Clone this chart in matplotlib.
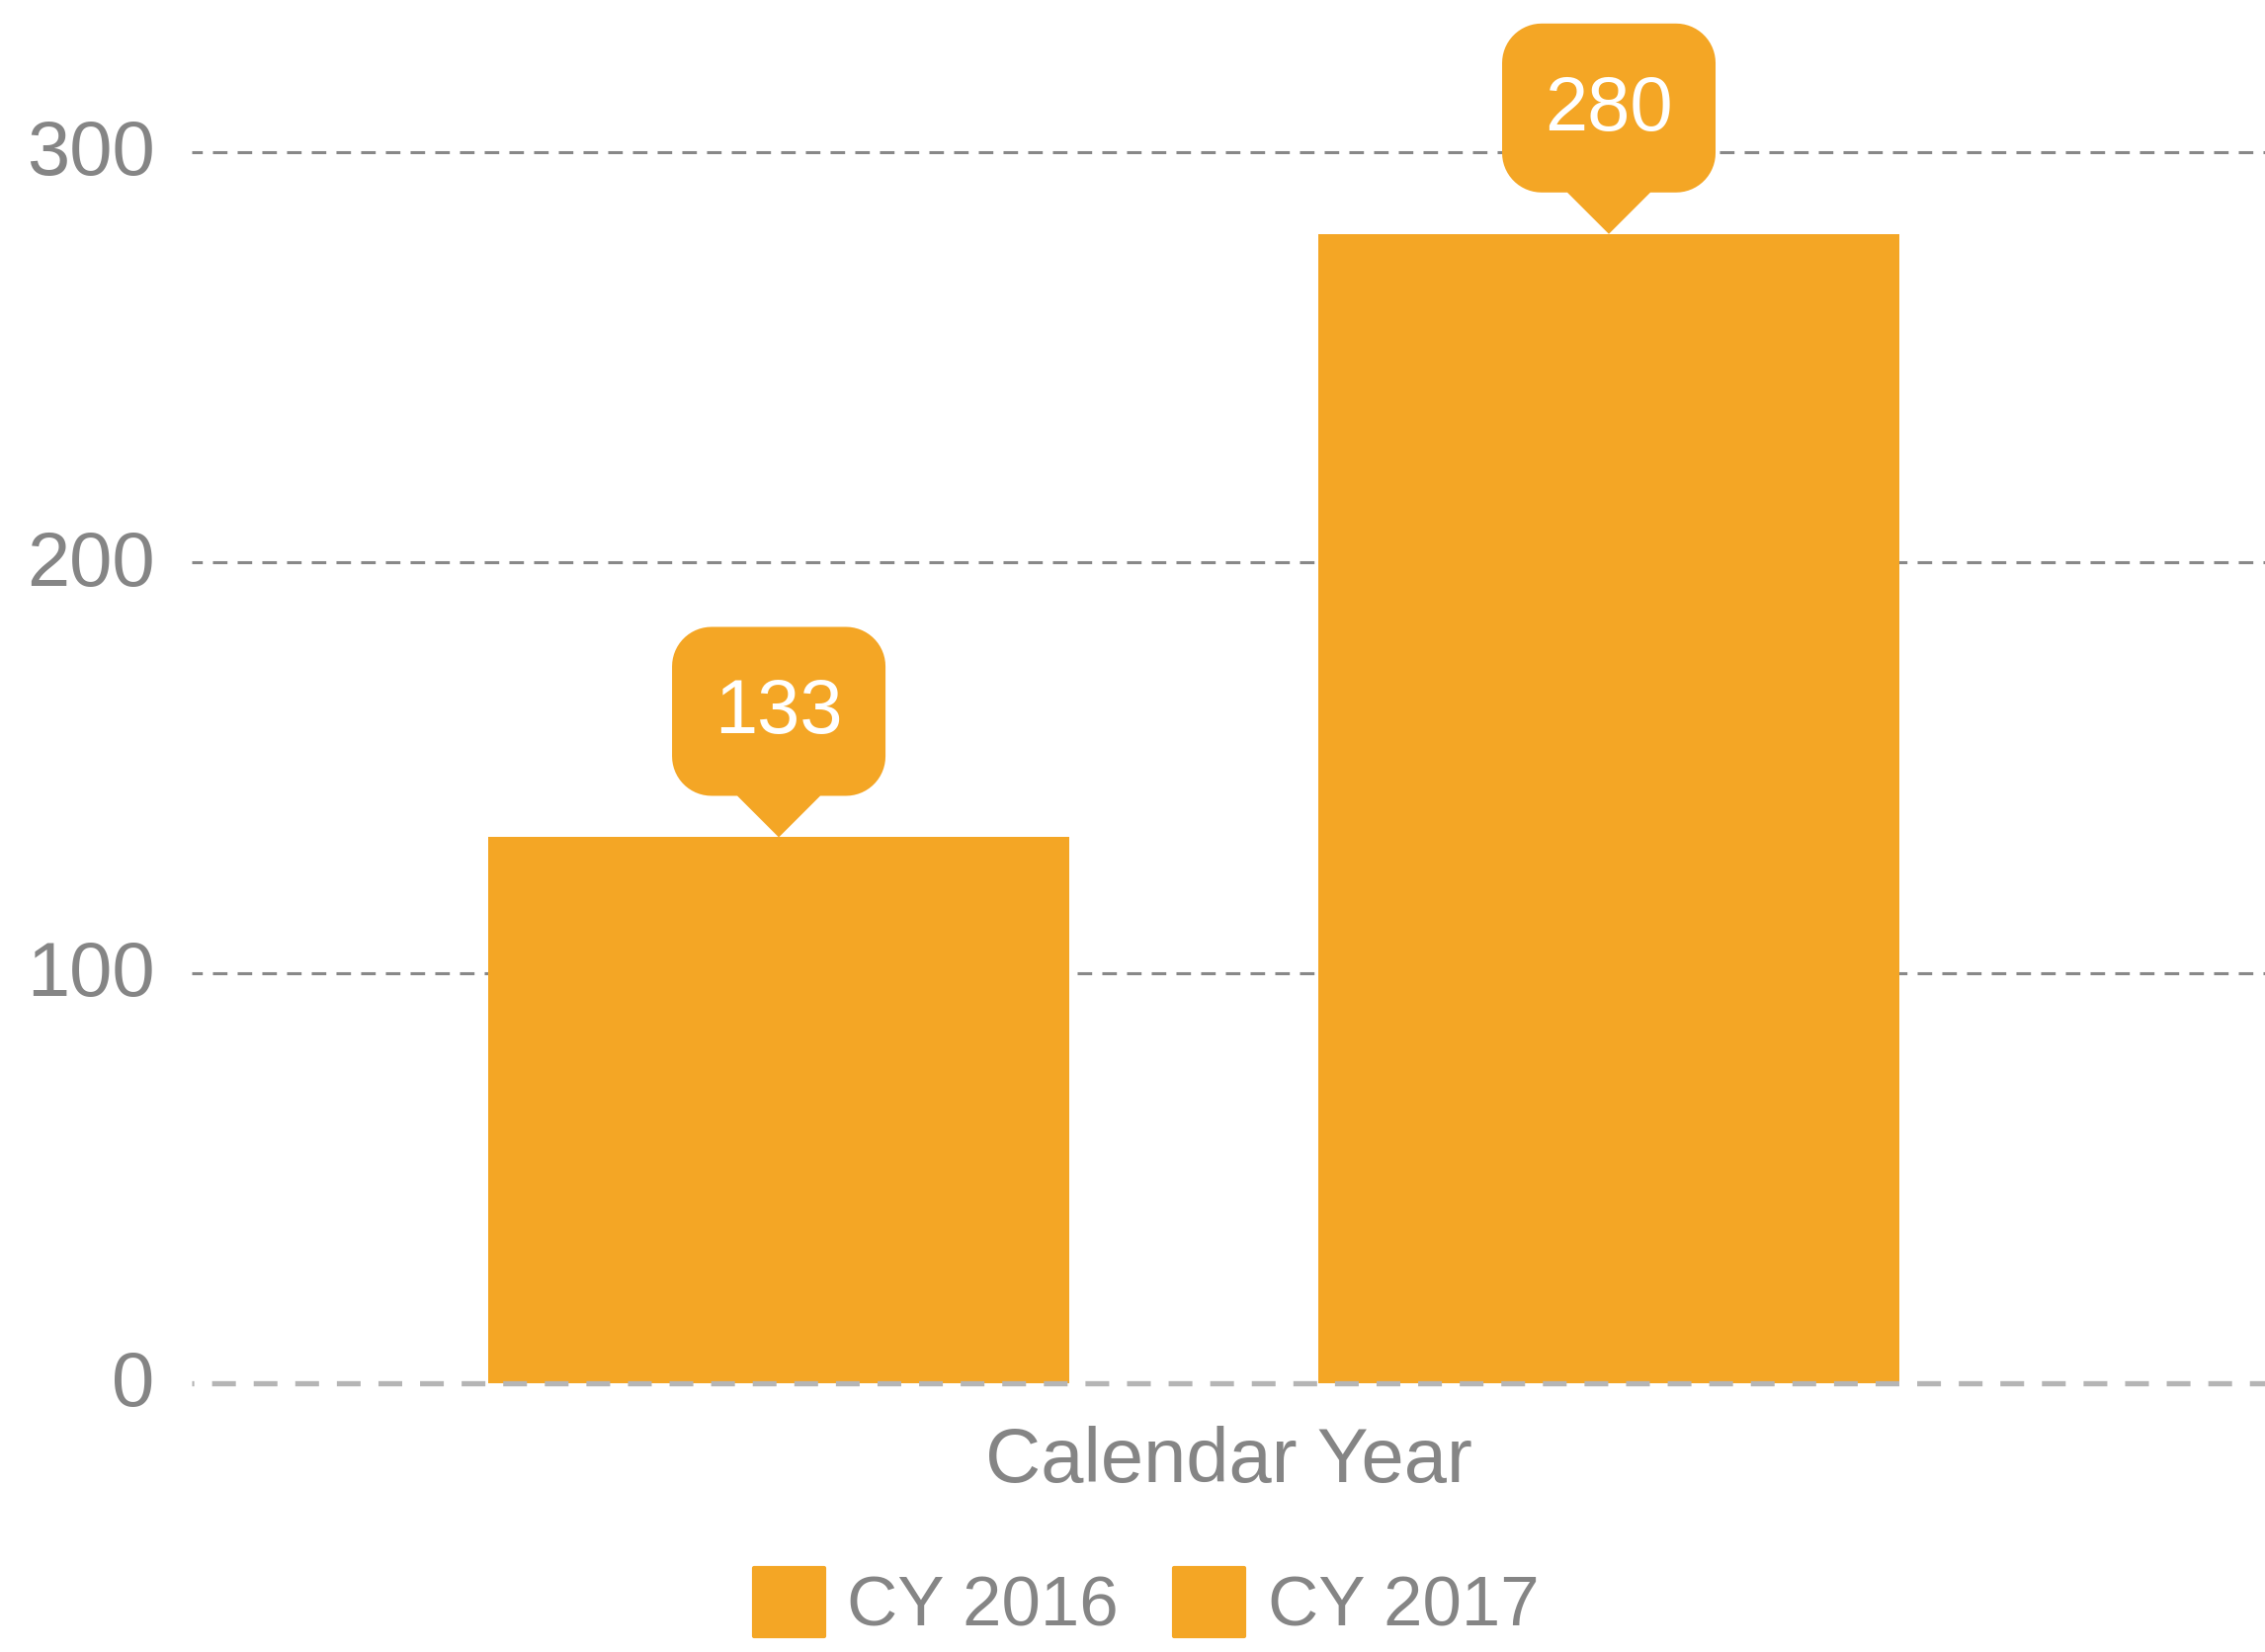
import matplotlib
matplotlib.use("Agg")
import numpy as np
import matplotlib.pyplot as plt
from matplotlib.patches import Polygon, Patch
from matplotlib.transforms import Affine2D, ScaledTranslation

plt.rcParams["font.family"] = ["Liberation Sans", "DejaVu Sans"]
plt.rcParams["lines.scale_dashes"] = False

category = "Calendar Year"
series = ["CY 2016", "CY 2017"]
values = [133, 280]
yticks = [0, 100, 200, 300]

orange = "#F4A625"
gray = "#858585"


def callout_outline(w=216, h=171, r=40, gap=42, tip=42):
    # rounded box sitting `gap` px above a pointer tip at (0, 0)
    x0, x1, y0, y1 = -w / 2, w / 2, gap, gap + h
    corners = [(x1 - r, y1 - r, 0), (x0 + r, y1 - r, 90),
               (x0 + r, y0 + r, 180), (x1 - r, y0 + r, 270)]
    pts = []
    for cx, cy, a in corners:
        t = np.radians(np.linspace(a, a + 90, 16))
        pts += list(zip(cx + r * np.cos(t), cy + r * np.sin(t)))
        if a == 180:
            pts += [(-tip, y0), (0, 0), (tip, y0)]
    return pts


W, H = 2292, 1672
fig = plt.figure(figsize=(W / 100, H / 100), dpi=100)
ax = fig.add_axes([194 / W, 272 / H, 1 - 194 / W, 1400 / H])

offsets = [-0.2, 0.2]
width = 0.28
for off, v, name in zip(offsets, values, series):
    ax.bar(off, v, width=width, color=orange, label=name, zorder=2)

ax.set_xlim(-0.4829, 0.5162)
ax.set_ylim(0, 337)

# dashed grid, heavier light line at zero
for t in yticks:
    if t == 0:
        ax.axhline(t, color="#b5b5b5", lw=3.8, ls=(15.8, (17.3, 13)), zorder=3,
                   clip_on=False)
    else:
        ax.axhline(t, color="#888888", lw=2.2, ls=(2.9, (10.6, 7.4)), zorder=1)

for s in ax.spines.values():
    s.set_visible(False)
ax.set_xticks([])
ax.set_yticks(yticks)
ax.tick_params(axis="y", length=0, pad=27, labelsize=56, labelcolor=gray)
up = ScaledTranslation(0, 5 / 100, fig.dpi_scale_trans)
for lab in ax.get_yticklabels():
    lab.set_transform(lab.get_transform() + up)

ax.text(0.5, -100 / 1400, category, transform=ax.transAxes, ha="center",
        va="baseline", fontsize=56, color=gray)

# value callouts (pixel offsets from the bar top)
for off, v in zip(offsets, values):
    tr = Affine2D() + ScaledTranslation(off, v, ax.transData)
    fig.add_artist(Polygon(callout_outline(), closed=True, transform=tr,
                           fc=orange, ec="none", zorder=5))
    fig.text(0, 105, str(v), transform=tr, ha="center", va="baseline",
             fontsize=56, color="white", zorder=6)

handles = [Patch(fc=orange, ec="none", label=s) for s in series]
leg = fig.legend(handles=handles, loc="center", bbox_to_anchor=(1160 / W, 48 / H),
                 ncol=2, frameon=False, fontsize=51, handlelength=1.0,
                 handleheight=1.12, handletextpad=0.33, columnspacing=0.8,
                 labelcolor=gray, borderpad=0, borderaxespad=0)
for p in leg.get_patches():
    p.set_joinstyle("round")
    p.set_edgecolor(orange)
    p.set_linewidth(3)

fig.savefig("out.png", dpi=100)
